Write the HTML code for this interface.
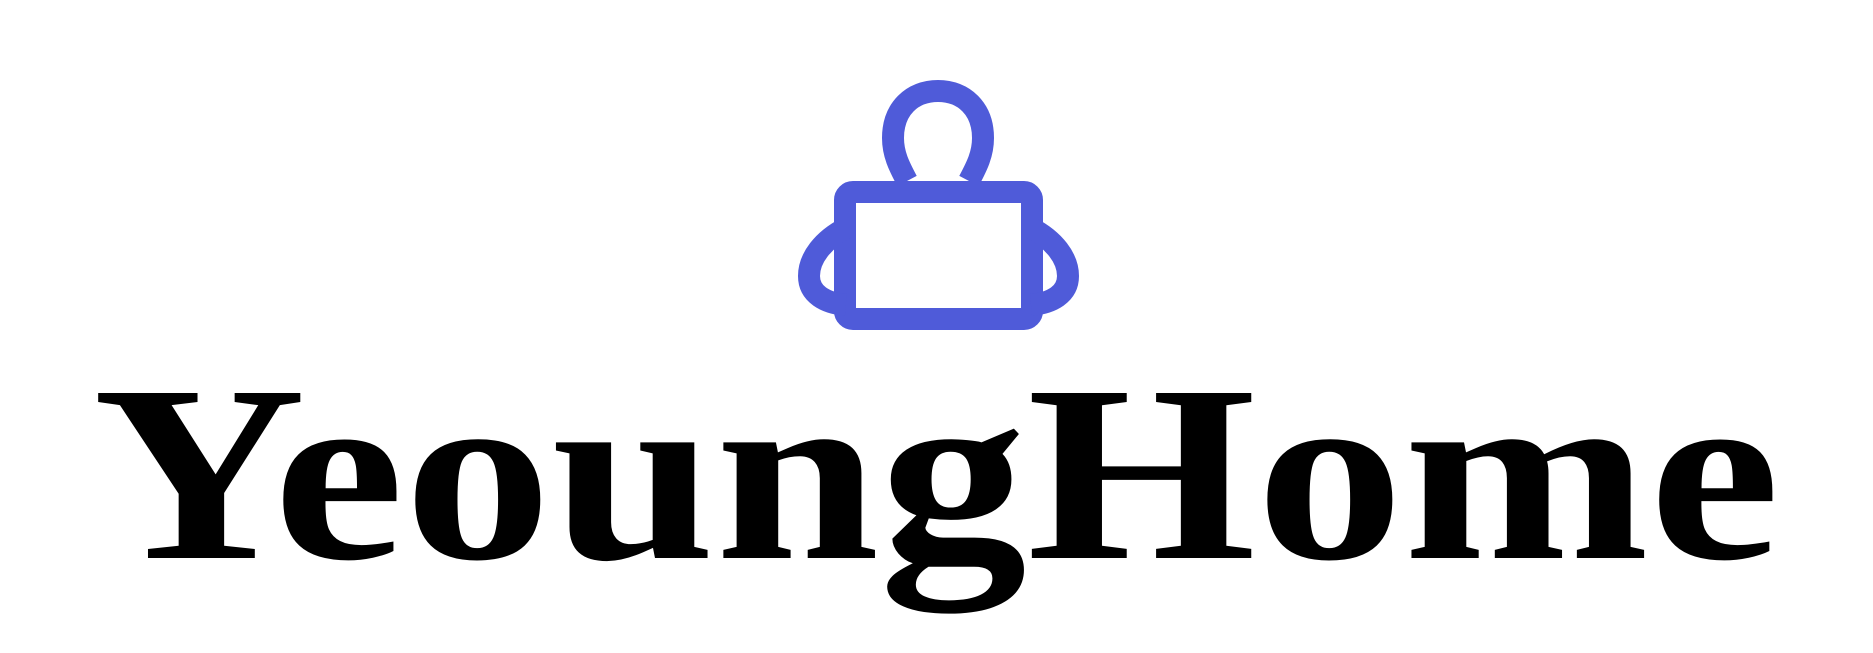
<!DOCTYPE html>
<html>
<head>
<meta charset="utf-8">
<style>
  html,body{margin:0;padding:0;background:#fff;}
  body{width:1873px;height:653px;overflow:hidden;}
  svg{display:block;}
</style>
</head>
<body>
<svg xmlns="http://www.w3.org/2000/svg" width="1873" height="653" viewBox="0 0 1873 653">
  <g fill="none" stroke="#4f5bd9" stroke-width="22" stroke-linejoin="round">
    <path d="M907,181 C899,166 893,154 893,138 C893,109 912,91 938,91 C964,91 983,109 983,138 C983,154 977,166 969,181"/>
    <rect x="845" y="192" width="187" height="127" rx="8"/>
    <path d="M846,228 C823,240 809,258 809,276 C809,294 825,303 846,305"/>
    <path d="M1031,228 C1054,240 1068,258 1068,276 C1068,294 1052,303 1031,305"/>
  </g>
  <text x="93" y="558" font-family="'Liberation Serif', serif" font-weight="bold" font-size="252" textLength="1687" lengthAdjust="spacingAndGlyphs" fill="#000">YeoungHome</text>
</svg>
</body>
</html>
